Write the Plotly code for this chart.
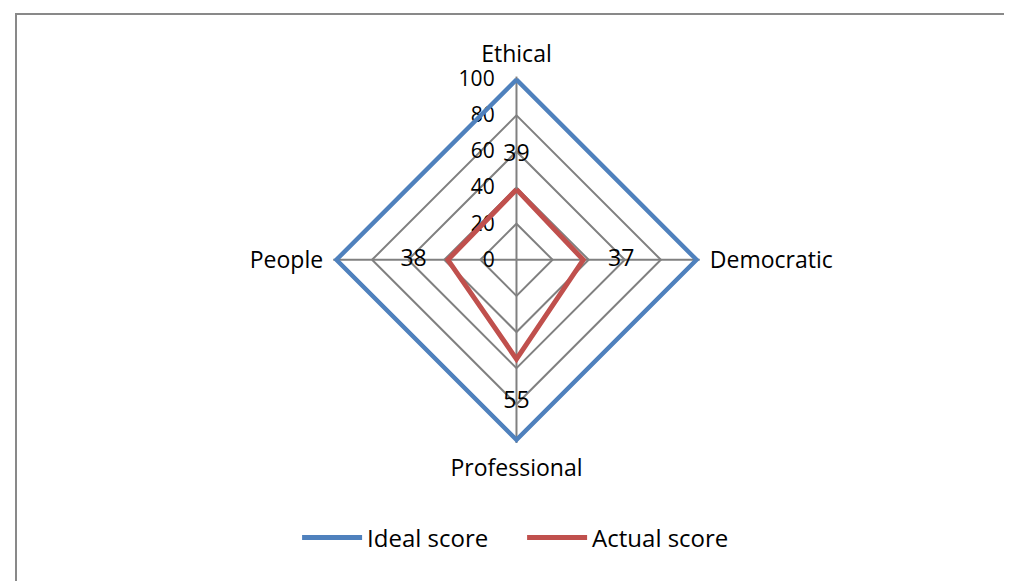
import plotly.graph_objects as go

categories = ["Ethical", "Democratic", "Professional", "People"]
ideal_score = [100, 100, 100, 100]
actual_score = [39, 37, 55, 38]
radial_ticks = [0, 20, 40, 60, 80, 100]

FONT = "'Open Sans', Lato, sans-serif"
FS = 23
BLUE = "#4F81BD"
RED = "#C0504D"
GRID = "#808080"

def closed(v):
    return list(v) + [v[0]]

fig = go.Figure()
fig.add_trace(go.Scatterpolar(
    r=closed(ideal_score), theta=closed(categories), mode="lines",
    name="Ideal score", line=dict(color=BLUE, width=5), cliponaxis=False))
fig.add_trace(go.Scatterpolar(
    r=closed(actual_score), theta=closed(categories), mode="lines",
    name="Actual score", line=dict(color=RED, width=5), cliponaxis=False))
# data labels (offset outward from each point)
label_offset = [19, 21, 24, 19]
fig.add_trace(go.Scatterpolar(
    r=[v + o for v, o in zip(actual_score, label_offset)], theta=categories,
    mode="text", text=[str(v) for v in actual_score],
    textfont=dict(family=FONT, size=FS, color="#000000"),
    textposition="middle center", showlegend=False, hoverinfo="skip",
    cliponaxis=False))

fig.update_layout(
    width=1012, height=581,
    margin=dict(l=0, r=0, t=0, b=0),
    paper_bgcolor="white",
    font=dict(family=FONT, size=FS, color="#000000"),
    polar=dict(
        domain=dict(x=[0.3214, 0.6835], y=[0.2512, 0.8820]),
        bgcolor="white",
        gridshape="linear",
        radialaxis=dict(
            range=[0, 101.5], tickvals=radial_ticks, angle=90, side="counterclockwise",
            showline=False, gridcolor=GRID, gridwidth=1.5,
            ticks="outside", ticklen=14, tickcolor="rgba(0,0,0,0)",
            layer="below traces",
            tickfont=dict(family=FONT, size=21, color="#000000"), tickangle=90),
        angularaxis=dict(
            rotation=90, direction="clockwise", showline=False,
            gridcolor=GRID, gridwidth=1.5,
            ticks="outside", ticklen=5, tickcolor="rgba(0,0,0,0)",
            tickfont=dict(family=FONT, size=FS, color="#000000"),
            layer="below traces"),
    ),
    legend=dict(orientation="h", x=0.508, xanchor="center", y=0.088, yanchor="middle",
                font=dict(family=FONT, size=24), itemwidth=60,
                entrywidth=150, entrywidthmode="pixels"),
    shapes=[dict(type="rect", xref="paper", yref="paper",
                 x0=8 / 1012, x1=1.02, y0=-0.02, y1=1 - 6 / 581,
                 line=dict(color="#898989", width=2))],
)

fig.write_html("out.html")
